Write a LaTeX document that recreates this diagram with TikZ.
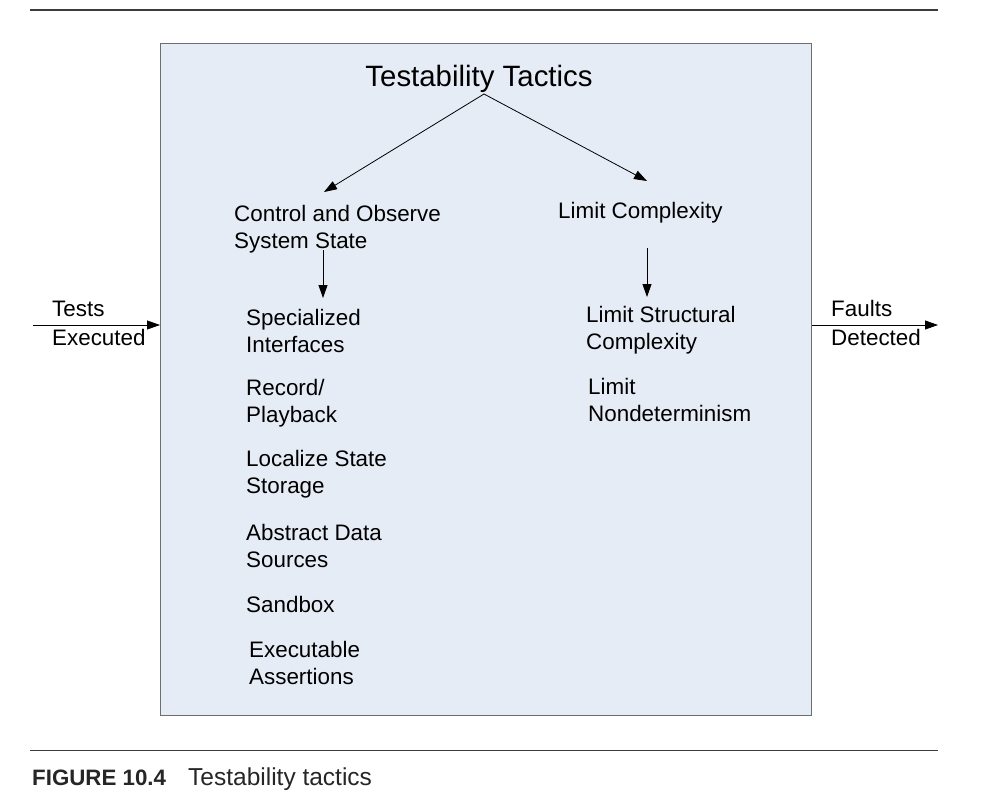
\documentclass[tikz,border=0pt]{standalone}
\usepackage{fontspec}
\setmainfont{Liberation Sans}
\usetikzlibrary{arrows.meta}
\definecolor{boxfill}{RGB}{230,236,246}
\definecolor{boxline}{RGB}{110,110,110}
\definecolor{rulecol}{RGB}{60,60,60}
\begin{document}
\begin{tikzpicture}[x=1pt,y=-1pt,
  lbl/.style={anchor=base west, inner sep=0pt, align=left, font=\fontsize{22.4}{27}\selectfont},
  side/.style={anchor=base west, inner sep=0pt, align=left, font=\fontsize{22.4}{29}\selectfont},
  arr/.style={-{Triangle[length=13pt,width=9pt]}, line width=0.8pt, black},
]
\useasboundingbox (0,0) rectangle (987,811);
% rules
\draw[rulecol, line width=1.5pt] (30,10) -- (938,10);
\draw[rulecol, line width=1pt] (30,750) -- (938,750);
% main box
\node[draw=boxline, fill=boxfill, line width=1.2pt, minimum width=651pt, minimum height=672pt, inner sep=0pt, anchor=north west] (box) at (160,43) {};
% title
\node[anchor=base, inner sep=0pt, font=\fontsize{29.4}{34}\selectfont] (title) at (479,86) {Testability Tactics};
% branches (anchor = baseline of last line)
\node[lbl] (ctrl) at (234,248) {Control and Observe\\System State};
\node[lbl] (limc) at (558,218) {Limit Complexity};
% left items
\node[lbl] (spec) at (246,352) {Specialized\\Interfaces};
\node[lbl] (rec) at (246,422) {Record/\\Playback};
\node[lbl] (loc) at (246,493) {Localize State\\Storage};
\node[lbl] (abs) at (246,567) {Abstract Data\\Sources};
\node[lbl] (sand) at (246,612) {Sandbox};
\node[lbl] (exe) at (249,684) {Executable\\Assertions};
% right items
\node[lbl] (lsc) at (586,349) {Limit Structural\\Complexity};
\node[lbl] (lnd) at (588,421) {Limit\\Nondeterminism};
% side labels
\node[side] (tests) at (52,345) {Tests\\Executed};
\node[side] (faults) at (831,345) {Faults\\Detected};
% connector coordinates
\coordinate (apex) at (484,94);
\coordinate (ctrltip) at (324,192);
\coordinate (limctip) at (647,181);
\coordinate (ctrlout) at (323,250);
\coordinate (spectip) at (323,298);
\coordinate (limcout) at (647,248);
\coordinate (lsctip) at (647,297);
\coordinate (tin) at (33,325);
\coordinate (fout) at (938,325);
% connectors
\draw[arr] (apex) -- (ctrltip);
\draw[arr] (apex) -- (limctip);
\draw[arr] (ctrlout) -- (spectip);
\draw[arr] (limcout) -- (lsctip);
\draw[arr] (tin) -- (tin -| box.west);
\draw[arr] (fout -| box.east) -- (fout);
% caption
\node[anchor=base west, inner sep=0pt, font=\fontsize{22.3}{27}\selectfont\bfseries, text=black!85] (fig) at (32,785) {FIGURE 10.4};
\node[anchor=base west, inner sep=0pt, font=\fontsize{24.5}{28}\selectfont, text=black!85] (cap) at (188,785) {Testability tactics};
\end{tikzpicture}
\end{document}
